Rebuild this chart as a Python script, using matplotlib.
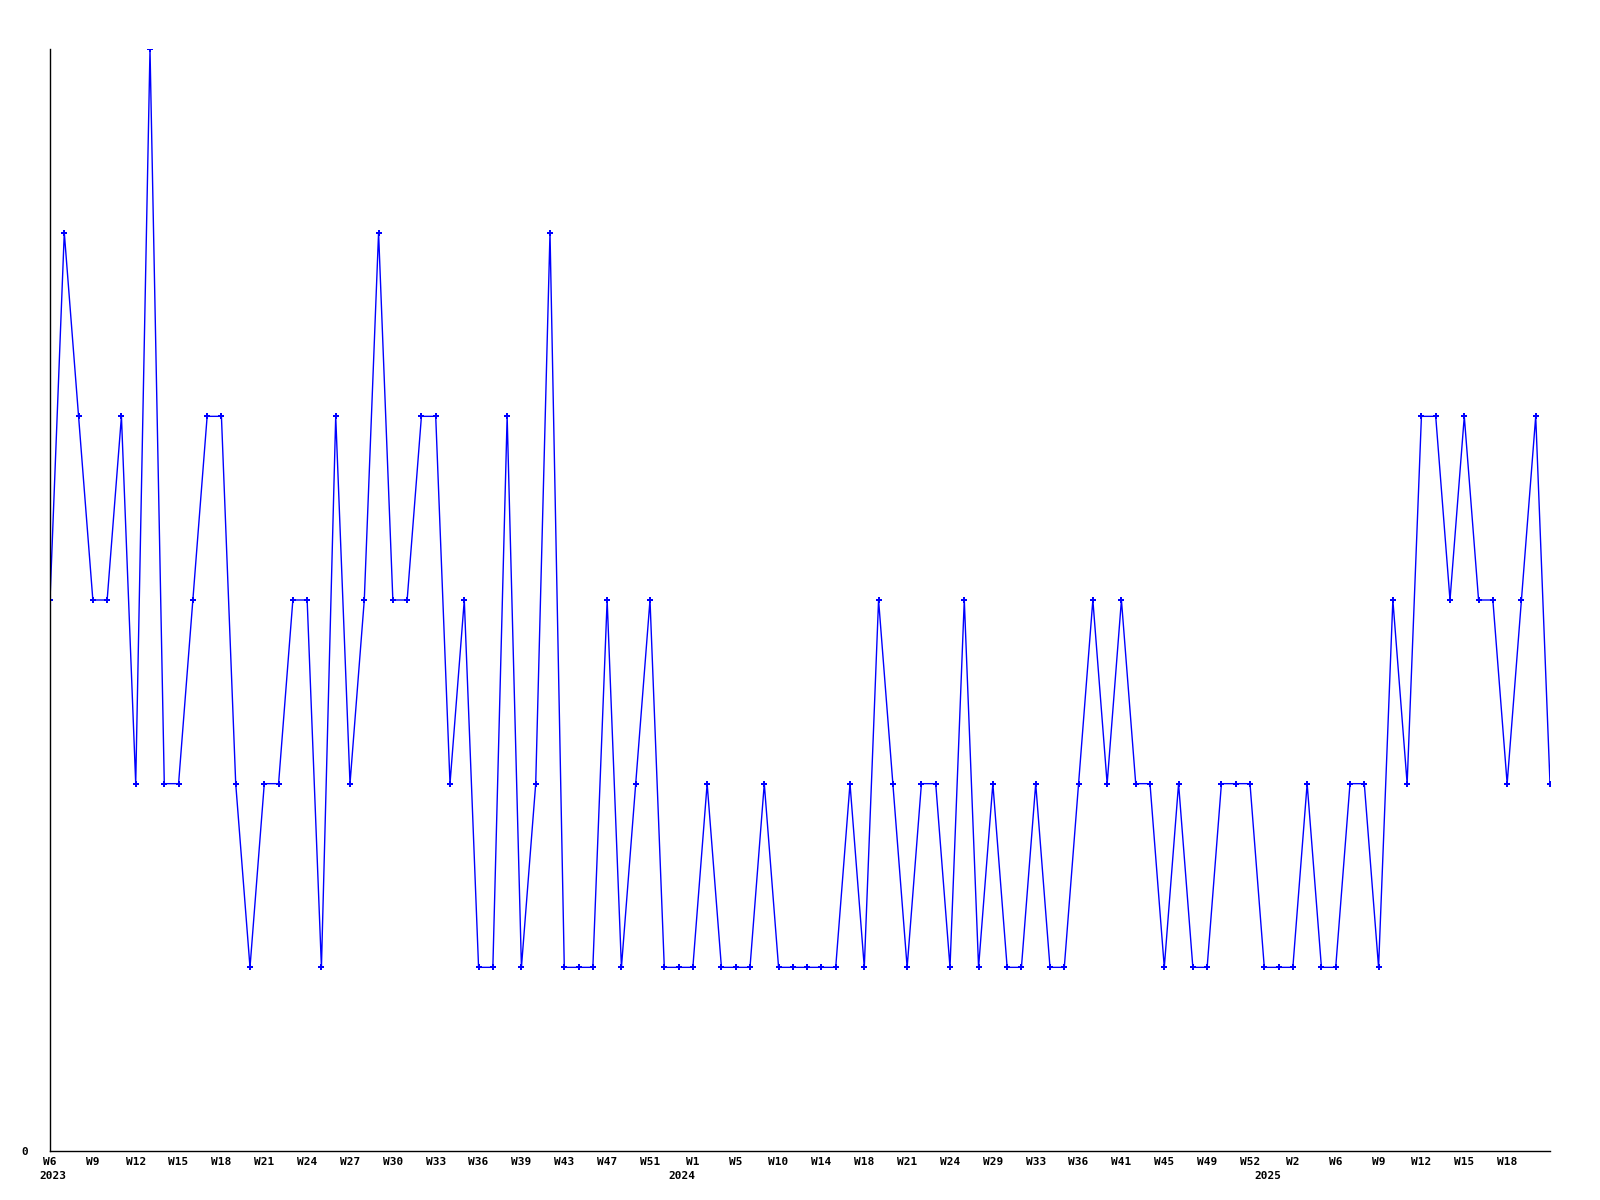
import matplotlib
matplotlib.use('Agg')
import matplotlib.pyplot as plt

# weekly counts, one per point (weeks with no data are skipped on the axis)
values = [3, 5, 4, 3, 3, 4, 2, 6, 2, 2,
          3, 4, 4, 2, 1, 2, 2, 3, 3, 1,
          4, 2, 3, 5, 3, 3, 4, 4, 2, 3,
          1, 1, 4, 1, 2, 5, 1, 1, 1, 3,
          1, 2, 3, 1, 1, 1, 2, 1, 1, 1,
          2, 1, 1, 1, 1, 1, 2, 1, 3, 2,
          1, 2, 2, 1, 3, 1, 2, 1, 1, 2,
          1, 1, 2, 3, 2, 3, 2, 2, 1, 2,
          1, 1, 2, 2, 2, 1, 1, 1, 2, 1,
          1, 2, 2, 1, 3, 2, 4, 4, 3, 4,
          3, 3, 2, 3, 4, 2]

# a label on every third point
week_labels = ['W6', 'W9', 'W12', 'W15', 'W18', 'W21', 'W24', 'W27', 'W30',
               'W33', 'W36', 'W39', 'W43', 'W47', 'W51', 'W1', 'W5', 'W10',
               'W14', 'W18', 'W21', 'W24', 'W29', 'W33', 'W36', 'W41', 'W45',
               'W49', 'W52', 'W2', 'W6', 'W9', 'W12', 'W15', 'W18']
year_labels = ['2023', '2024', '2025']
year_label_pos = [0, 15, 29]        # which week label the year sits under
year_shift = [2, -8, -18]           # small horizontal nudge, in points

x = list(range(len(values)))
ticks = x[::3][:len(week_labels)]
font = dict(fontsize=8, fontweight='bold', family='DejaVu Sans Mono')

fig = plt.figure(figsize=(16, 12), dpi=100)
ax = fig.add_axes([50 / 1600, 1 - 1151 / 1200, 1500 / 1600, 1102 / 1200])

ax.plot(x, values, color='#0000ff', linewidth=1, marker='P', markersize=4,
        markeredgewidth=0)

ax.set_xlim(0, len(values) - 1)
ax.set_ylim(0, 6)

ax.set_xticks(ticks)
ax.set_xticklabels(week_labels, **font)
ax.set_yticks([0])
ax.set_yticklabels(['0'], **font)
ax.tick_params(axis='x', length=0, pad=4)
ax.tick_params(axis='y', length=0, pad=16)

for year, pos, dx in zip(year_labels, year_label_pos, year_shift):
    ax.annotate(year, xy=(ticks[pos], 0), xycoords=('data', 'axes fraction'),
                xytext=(dx, -18), textcoords='offset points',
                ha='center', va='center', annotation_clip=False, **font)

for side in ['top', 'right']:
    ax.spines[side].set_visible(False)
for side in ['left', 'bottom']:
    ax.spines[side].set_linewidth(1)
    ax.spines[side].set_color('black')

plt.savefig('out.png', dpi=100)
plt.close()
